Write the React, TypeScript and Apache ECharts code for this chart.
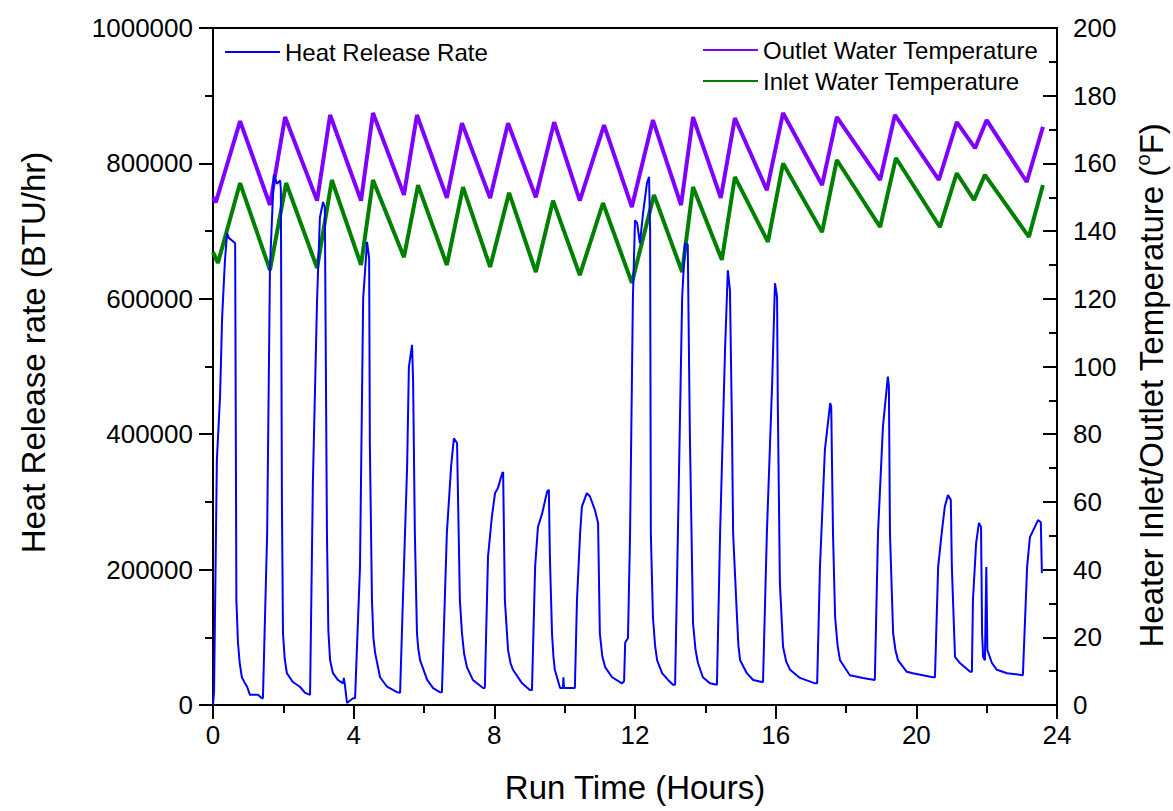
import React, { useEffect, useRef } from "react";
import * as echarts from "echarts";

// Heat release rate (BTU/hr) vs run time (hours)
const hrrTime = [0, 0.03, 0.11, 0.2, 0.26, 0.34, 0.4, 0.45, 0.54, 0.63, 0.665, 0.71, 0.76, 0.82, 0.9, 0.97, 1.05, 1.28, 1.39, 1.42, 1.54, 1.62, 1.73, 1.82, 1.91, 1.93, 1.96, 1.99, 2.04, 2.1, 2.27, 2.47, 2.62, 2.76, 2.84, 2.96, 3.04, 3.13, 3.18, 3.24, 3.28, 3.33, 3.41, 3.55, 3.7, 3.72, 3.75, 3.81, 3.98, 4.04, 4.18, 4.27, 4.38, 4.44, 4.46, 4.52, 4.56, 4.61, 4.75, 4.95, 5.23, 5.32, 5.4, 5.52, 5.57, 5.66, 5.69, 5.74, 5.8, 5.84, 5.89, 6.09, 6.26, 6.45, 6.51, 6.65, 6.77, 6.85, 6.94, 7.02, 7.08, 7.14, 7.22, 7.39, 7.68, 7.73, 7.82, 7.93, 8.02, 8.1, 8.22, 8.25, 8.3, 8.39, 8.46, 8.53, 8.79, 9.01, 9.07, 9.16, 9.24, 9.36, 9.5, 9.55, 9.58, 9.64, 9.68, 9.72, 9.87, 9.95, 9.965, 9.98, 10.29, 10.35, 10.44, 10.49, 10.63, 10.72, 10.86, 10.95, 11.0, 11.07, 11.15, 11.35, 11.63, 11.69, 11.72, 11.8, 11.86, 11.94, 12.0, 12.06, 12.14, 12.23, 12.34, 12.4, 12.43, 12.45, 12.51, 12.57, 12.63, 12.77, 12.94, 13.08, 13.14, 13.22, 13.34, 13.42, 13.5, 13.56, 13.65, 13.72, 13.79, 13.93, 14.13, 14.33, 14.42, 14.56, 14.64, 14.7, 14.76, 14.79, 14.9, 14.94, 14.99, 15.18, 15.36, 15.61, 15.64, 15.75, 15.9, 15.98, 16.04, 16.06, 16.12, 16.21, 16.3, 16.41, 16.69, 17.12, 17.18, 17.26, 17.4, 17.55, 17.58, 17.63, 17.69, 17.76, 17.83, 18.11, 18.48, 18.82, 18.91, 19.05, 19.19, 19.22, 19.25, 19.34, 19.41, 19.48, 19.73, 19.9, 20.47, 20.53, 20.62, 20.73, 20.81, 20.9, 20.98, 21.01, 21.1, 21.24, 21.53, 21.58, 21.61, 21.7, 21.78, 21.84, 21.87, 21.9, 21.95, 21.99, 22.02, 22.15, 22.29, 22.58, 23.03, 23.15, 23.23, 23.37, 23.46, 23.54, 23.57];
const hrrValue = [0, 20000, 362000, 455000, 573000, 657000, 697000, 690000, 686000, 682000, 155000, 92000, 62000, 41000, 33000, 27000, 15000, 15000, 10000, 10000, 254000, 647000, 783000, 770000, 775000, 760000, 300000, 106000, 68000, 47000, 34000, 27000, 18000, 15000, 328000, 600000, 720000, 743000, 735000, 254000, 110000, 66000, 47000, 37000, 32000, 40000, 30000, 3000, 10000, 10000, 204000, 600000, 684000, 660000, 387000, 155000, 100000, 77000, 41000, 27000, 19000, 18000, 155000, 352000, 499000, 532000, 480000, 254000, 106000, 82000, 66000, 37000, 25000, 19000, 19000, 254000, 352000, 394000, 387000, 155000, 106000, 76000, 56000, 37000, 25000, 25000, 219000, 278000, 313000, 320000, 342000, 344000, 155000, 81000, 62000, 52000, 32000, 22000, 22000, 204000, 263000, 283000, 315000, 318000, 219000, 106000, 72000, 52000, 25000, 25000, 41000, 25000, 25000, 155000, 254000, 293000, 313000, 308000, 288000, 269000, 106000, 72000, 56000, 41000, 32000, 35000, 92000, 99000, 254000, 600000, 716000, 712000, 682000, 727000, 771000, 780000, 700000, 254000, 130000, 88000, 66000, 47000, 37000, 30000, 30000, 254000, 600000, 682000, 680000, 400000, 121000, 82000, 62000, 41000, 32000, 30000, 254000, 524000, 642000, 613000, 401000, 254000, 130000, 88000, 66000, 47000, 37000, 34000, 34000, 254000, 475000, 623000, 603000, 450000, 180000, 86000, 64000, 52000, 40000, 32000, 32000, 204000, 377000, 446000, 440000, 254000, 130000, 88000, 66000, 44000, 40000, 37000, 254000, 411000, 485000, 470000, 254000, 106000, 80000, 66000, 49000, 47000, 41000, 41000, 204000, 258000, 293000, 310000, 303000, 204000, 71000, 62000, 49000, 49000, 155000, 239000, 269000, 263000, 106000, 71000, 66000, 204000, 81000, 62000, 52000, 47000, 44000, 204000, 248000, 263000, 273000, 270000, 195000];

// Outlet water temperature (°F)
const outletTime = [0, 0.08, 0.77, 1.62, 2.05, 2.96, 3.33, 4.21, 4.55, 5.43, 5.8, 6.65, 7.08, 7.88, 8.39, 9.18, 9.7, 10.43, 11.12, 11.91, 12.51, 13.31, 13.65, 14.44, 14.84, 15.75, 16.21, 17.32, 17.74, 18.97, 19.39, 20.64, 21.15, 21.67, 22.0, 23.14, 23.6];
const outletTemp = [150, 148.5, 172.5, 147.7, 173.7, 149, 174.3, 149, 174.9, 150.7, 174.3, 149.8, 171.9, 149.8, 171.9, 150, 172.2, 149, 171.3, 147.1, 172.8, 147.7, 173.7, 149.8, 173.4, 152.1, 174.9, 153.6, 173.7, 155.1, 174.3, 155.1, 172.2, 164.5, 172.8, 154.5, 170.8];

// Inlet water temperature (°F)
const inletTime = [0, 0.14, 0.77, 1.62, 2.08, 2.96, 3.38, 4.21, 4.55, 5.43, 5.83, 6.65, 7.11, 7.88, 8.42, 9.18, 9.67, 10.43, 11.09, 11.91, 12.54, 13.34, 13.65, 14.47, 14.84, 15.78, 16.21, 17.32, 17.74, 18.97, 19.42, 20.67, 21.15, 21.64, 21.95, 23.2, 23.6];
const inletTemp = [133.8, 130.6, 154.2, 128.5, 154.2, 129.1, 155.1, 130, 155.1, 132.3, 153.6, 130, 153, 129.4, 151.3, 127.9, 149, 127, 148.3, 124.7, 150.7, 127.9, 153, 131.5, 156, 136.8, 160, 139.7, 161, 141.2, 161.6, 141.2, 157.1, 149.2, 156.6, 138.3, 153.6];

const FONT = "Liberation Sans, Arial, sans-serif";

export default function App() {
  const ref = useRef<HTMLDivElement>(null);
  useEffect(() => {
    if (!ref.current) return;
    const chart = echarts.init(ref.current, null, { renderer: "svg" });
    const pairs = (xs: number[], ys: number[]) => xs.map((x, i) => [x, ys[i]]);
    const legendText = { fontSize: 24, fontFamily: FONT, color: "#000" };
    chart.setOption({
      animation: false,
      backgroundColor: "#fff",
      textStyle: { fontFamily: FONT, color: "#000" },
      grid: {
        left: 213,
        right: 116,
        top: 28,
        bottom: 106,
        show: true,
        borderColor: "#000",
        borderWidth: 2,
        outerBoundsMode: "none",
      },
      legend: [
        {
          data: ["Heat Release Rate"],
          icon: "rect",
          left: 220,
          top: 35,
          itemWidth: 55,
          itemHeight: 2,
          textStyle: legendText,
        },
        {
          data: ["Outlet Water Temperature", "Inlet Water Temperature"],
          icon: "rect",
          left: 698,
          top: 33,
          orient: "vertical",
          itemGap: 7,
          itemWidth: 55,
          itemHeight: 2,
          textStyle: legendText,
        },
      ],
      xAxis: {
        type: "value",
        min: 0,
        max: 24,
        interval: 4,
        name: "Run Time (Hours)",
        nameLocation: "middle",
        nameGap: 66,
        nameTextStyle: { fontSize: 33, fontFamily: FONT, color: "#000" },
        axisLine: { show: true, lineStyle: { color: "#000", width: 2 } },
        axisTick: { show: true, length: 14, lineStyle: { color: "#000", width: 2 } },
        minorTick: { show: true, splitNumber: 2, length: 8, lineStyle: { color: "#000", width: 2 } },
        axisLabel: { fontSize: 26, fontFamily: FONT, color: "#000", margin: 17 },
        splitLine: { show: false },
      },
      yAxis: [
        {
          type: "value",
          min: 0,
          max: 1000000,
          interval: 200000,
          name: "Heat Release rate (BTU/hr)",
          nameLocation: "middle",
          nameGap: 163,
          nameTextStyle: { fontSize: 33, fontFamily: FONT, color: "#000", padding: [0, 0, 0, 28] },
          axisLine: { show: true, lineStyle: { color: "#000", width: 2 } },
          axisTick: { show: true, length: 14, lineStyle: { color: "#000", width: 2 } },
          minorTick: { show: true, splitNumber: 2, length: 8, lineStyle: { color: "#000", width: 2 } },
          axisLabel: {
            fontSize: 26,
            fontFamily: FONT,
            color: "#000",
            margin: 20,
            formatter: (v: number) => String(v),
          },
          splitLine: { show: false },
        },
        {
          type: "value",
          min: 0,
          max: 200,
          interval: 20,
          position: "right",
          name: "Heater Inlet/Outlet Temperature ({sup|o}F)",
          nameLocation: "middle",
          nameRotate: 90,
          nameGap: 76,
          nameTextStyle: {
            fontSize: 33,
            fontFamily: FONT,
            color: "#000",
            lineHeight: 36,
            padding: [0, 38, 0, 0],
            rich: {
              sup: { fontSize: 20, fontFamily: FONT, color: "#000", verticalAlign: "top", lineHeight: 20 },
            },
          },
          axisLine: { show: true, lineStyle: { color: "#000", width: 2 } },
          axisTick: { show: true, inside: true, length: 14, lineStyle: { color: "#000", width: 2 } },
          minorTick: { show: true, splitNumber: 2, length: 8, lineStyle: { color: "#000", width: 2 } },
          axisLabel: { fontSize: 26, fontFamily: FONT, color: "#000", margin: 16 },
          splitLine: { show: false },
        },
      ],
      series: [
        {
          name: "Outlet Water Temperature",
          type: "line",
          yAxisIndex: 1,
          data: pairs(outletTime, outletTemp),
          symbol: "none",
          showSymbol: false,
          lineStyle: { color: "#8000FF", width: 4 },
          itemStyle: { color: "#8000FF" },
          z: 2,
        },
        {
          name: "Inlet Water Temperature",
          type: "line",
          yAxisIndex: 1,
          data: pairs(inletTime, inletTemp),
          symbol: "none",
          showSymbol: false,
          lineStyle: { color: "#008000", width: 4 },
          itemStyle: { color: "#008000" },
          z: 2,
        },
        {
          name: "Heat Release Rate",
          type: "line",
          yAxisIndex: 0,
          data: pairs(hrrTime, hrrValue),
          symbol: "none",
          showSymbol: false,
          lineStyle: { color: "#0000FF", width: 2 },
          itemStyle: { color: "#0000FF" },
          z: 3,
        },
      ],
    });
    return () => chart.dispose();
  }, []);
  return (
    <div
      ref={ref}
      style={{ position: "fixed", left: 0, top: 0, width: 1173, height: 811 }}
    />
  );
}
